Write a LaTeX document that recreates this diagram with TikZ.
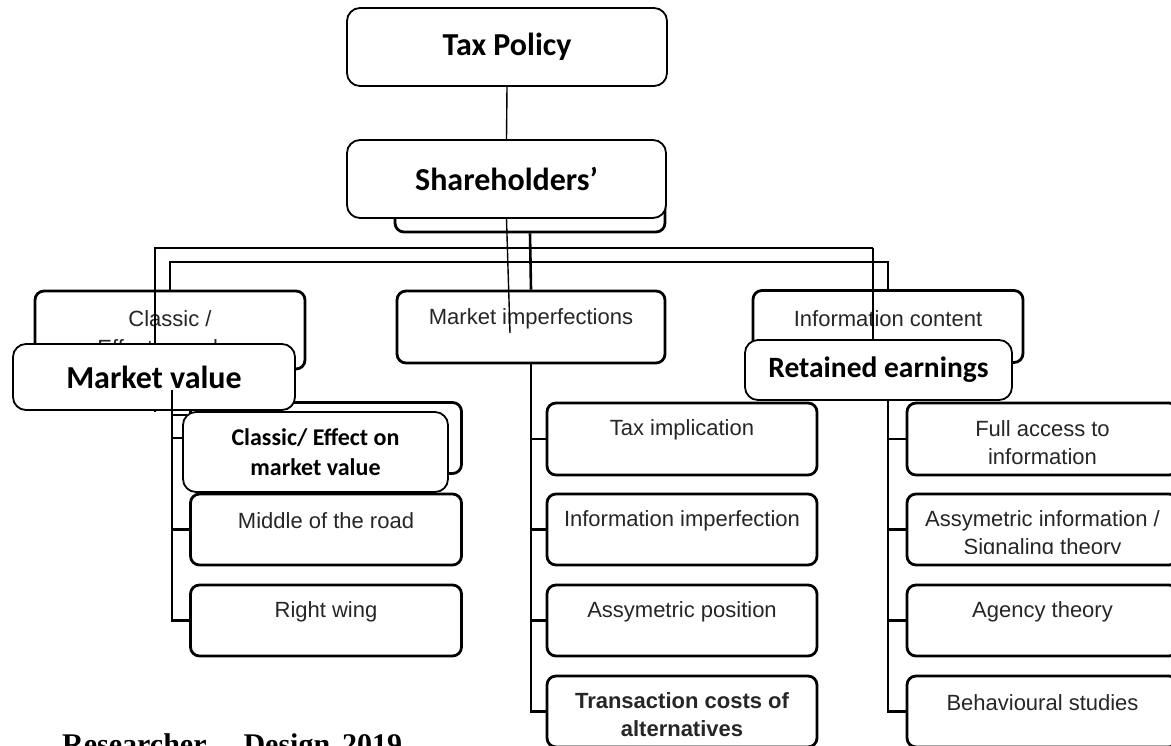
\documentclass[tikz,border=0pt]{standalone}
\usepackage{fontspec}
\setmainfont{Liberation Sans}
\newfontfamily\calib{Carlito}
\newfontfamily\timesf{Liberation Serif}
\tikzset{
  oldbox/.style={draw=black, line width=2.8pt, rounded corners=9pt, fill=white, inner sep=0pt},
  newbox/.style={draw=black, line width=1.8pt, rounded corners=13pt, fill=white, inner sep=0pt, align=center},
  oldtxt/.style={text=black!85, font=\fontsize{22}{28}\selectfont, align=center, inner sep=0pt},
  bigtxt/.style={font=\calib\bfseries\fontsize{32}{36}\selectfont},
  medtxt/.style={font=\calib\bfseries\fontsize{29.5}{34}\selectfont},
  smalltxt/.style={font=\calib\bfseries\fontsize{24}{30}\selectfont},
  bus/.style={line width=2.6pt},
  thinline/.style={line width=1.4pt},
}
\begin{document}
\begin{tikzpicture}[x=1pt,y=-1pt]
\useasboundingbox (0,0) rectangle (1171,745);
\clip (0,0) rectangle (1171,745);
\fill[white] (0,0) rectangle (1171,745);

% back box behind Shareholders'
\node[oldbox, minimum width=270pt, minimum height=72pt] (shb) at (530,196) {};

% level 2 boxes
\node[oldbox, minimum width=270pt, minimum height=78pt] (c1) at (170,330) {};
\node[oldtxt] (c1t) at (170,319) {Classic /};
\node[oldtxt] (c1u) at (170,348) {Effect on value};
\node[oldbox, minimum width=268pt, minimum height=72pt] (c2) at (531,327) {};
\node[oldtxt] (c2t) at (531,319) {Market imperfections};
\node[oldbox, minimum width=270pt, minimum height=72pt] (c3) at (888,326.5) {};
\node[oldtxt] (c3t) at (888,319) {Information content};

% left column
\node[oldbox, minimum width=271pt, minimum height=71pt] (l1) at (326,438) {};
\node[oldbox, minimum width=271pt, minimum height=71pt] (l2) at (326,529.5) {};
\node[oldtxt] (l2t) at (326,521) {Middle of the road};
\node[oldbox, minimum width=271pt, minimum height=71pt] (l3) at (326,620.5) {};
\node[oldtxt] (l3t) at (326,612) {Right wing};

% middle column
\node[oldbox, minimum width=270pt, minimum height=72pt] (m1) at (682,439) {};
\node[oldtxt] (m1t) at (682,430) {Tax implication};
\node[oldbox, minimum width=270pt, minimum height=71pt] (m2) at (682,529.5) {};
\node[oldtxt] (m2t) at (682,521) {Information imperfection};
\node[oldbox, minimum width=270pt, minimum height=71pt] (m3) at (682,620.5) {};
\node[oldtxt] (m3t) at (682,612) {Assymetric position};
\node[oldbox, minimum width=270pt, minimum height=71pt] (m4) at (682,711.5) {};
\node[oldtxt, font=\bfseries\fontsize{22}{28}\selectfont] (m4t) at (682,715) {Transaction costs of\\alternatives};

% right column
\node[oldbox, minimum width=271pt, minimum height=72pt] (r1) at (1042.5,439) {};
\node[oldtxt] (r1t) at (1042.5,443) {Full access to\\information};
\node[oldbox, minimum width=271pt, minimum height=71pt] (r2) at (1042.5,529.5) {};
\begin{scope}
  \clip (r2.north west) rectangle (1178,553);
  \node[oldtxt] (r2t) at (1042.5,534.5) {Assymetric information /\\Signaling theory};
\end{scope}
\node[oldbox, minimum width=271pt, minimum height=71pt] (r3) at (1042.5,620.5) {};
\node[oldtxt] (r3t) at (1042.5,612) {Agency theory};
\node[oldbox, minimum width=271pt, minimum height=71pt] (r4) at (1042.5,711.5) {};
\node[oldtxt] (r4t) at (1042.5,703) {Behavioural studies};

% thick bus
\coordinate (busy) at (0,262);
\draw[bus] (c1.north) -- (c1.north |- busy) -- (c3.north |- busy) -- (c3.north);
\draw[bus] (shb.south) -- (c2.north);
\draw[bus] (c2.south) |- (m4.west);
\foreach \b in {m1,m2,m3} \draw[bus] (\b.west) -- (\b.west -| c2.south);

% thin lines
\coordinate (tb1) at (155,248);
\coordinate (tb2) at (873,248);
\coordinate (midend) at (510,333);
\coordinate (lft) at (155,412);

% top boxes
\node[newbox, bigtxt, minimum width=320pt, minimum height=78pt] (tax) at (507,47) {Tax Policy};
\node[newbox, bigtxt, minimum width=319pt, minimum height=78pt] (sh) at (506.5,179) {Shareholders’};
\draw[thinline] (tax.south) -- (sh.north);
\draw[thinline] (sh.south) -- (midend);
\draw[thinline] (lft) -- (tb1) -- (tb2);

% overlay boxes
\node[newbox, bigtxt, minimum width=282pt, minimum height=66pt] (mv) at (154,377) {Market value};
\node[newbox, medtxt, minimum width=267pt, minimum height=60pt] (re) at (878.5,370) {Retained earnings};
\draw[thinline] (tb2) -- (re.north -| tb2);

% right column line
\draw[bus] (re.south -| c3.south) |- (r4.west);
\foreach \b in {r1,r2,r3} \draw[bus] (\b.west) -- (\b.west -| c3.south);

% left column line
\coordinate (lj) at (172,390);
\draw[bus] (lj) |- (l3.west);
\draw[bus] (l2.west) -- (l2.west -| lj);
\draw[bus] (l1.west) -- (l1.west -| lj);
\draw[bus] (lj |- 0,415) -- (187,415);

% overlay on left column
\node[newbox, smalltxt, minimum width=265pt, minimum height=80pt] (ov) at (315.5,452) {Classic/ Effect on\\market value};

% source line (cut by the page edge)
\node[anchor=north west, inner sep=0pt, font=\timesf\bfseries\fontsize{30}{36}\selectfont] (src) at (62,733) {Researcher\hspace{37pt}Design\hspace{12pt}2019};
\end{tikzpicture}
\end{document}
